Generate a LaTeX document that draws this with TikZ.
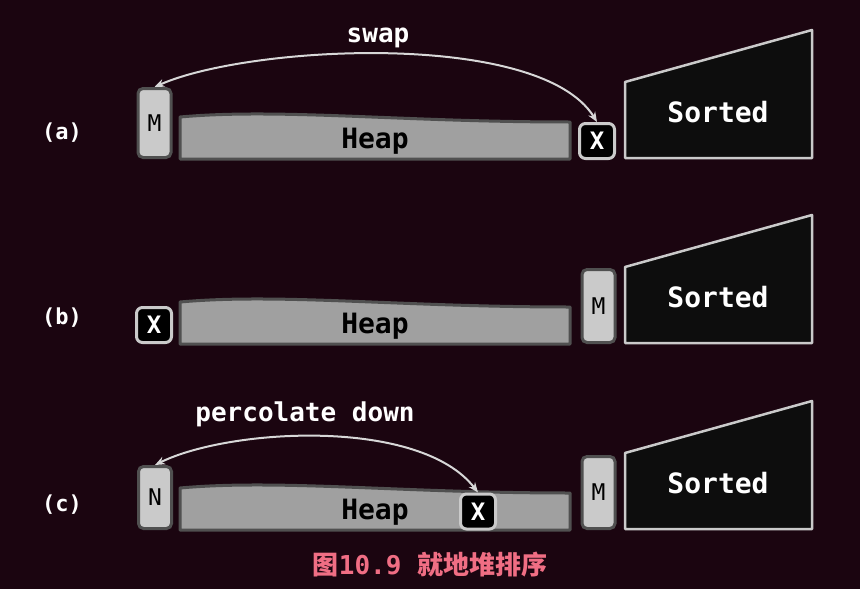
\documentclass[tikz,border=0pt]{standalone}
\usepackage{fontspec}
\setmonofont{DejaVu Sans Mono}
\newfontfamily\cjkfont{Noto Sans CJK SC}
\definecolor{bgmaroon}{RGB}{27, 5, 16}
\definecolor{keygray}{RGB}{202, 202, 202}
\definecolor{edgegray}{RGB}{80, 80, 80}
\definecolor{heapgray}{RGB}{160, 160, 160}
\definecolor{sortedblack}{RGB}{13, 13, 13}
\definecolor{captionpink}{RGB}{240, 110, 132}
\definecolor{arcgray}{RGB}{215, 215, 215}
\usetikzlibrary{
  arrows.meta,
  positioning,
}
\tikzset{
  >={Stealth[length=10pt,width=8pt]},
  keybox/.style={draw=edgegray,line width=3pt,fill=keygray,rounded corners=5pt,inner sep=0pt,
    minimum width=33,font=\ttfamily\fontsize{23}{23}\selectfont},
  xbox/.style={draw=keygray,line width=3pt,fill=black,text=white,rounded corners=6pt,inner sep=0pt,
    minimum width=35,minimum height=35,font=\ttfamily\bfseries\fontsize{24}{24}\selectfont},
  rowlabel/.style={text=white,font=\ttfamily\bfseries\fontsize{22}{22}\selectfont},
  steplabel/.style={text=white,font=\ttfamily\bfseries\fontsize{26}{26}\selectfont},
  heaptext/.style={text=black,font=\ttfamily\bfseries\fontsize{28}{28}\selectfont},
  sortedtext/.style={text=white,font=\ttfamily\bfseries\fontsize{28}{28}\selectfont},
  swaparc/.style={<->,draw=arcgray,line width=2pt},
  heapbar/.pic={
    \draw[draw=edgegray,line width=3pt,fill=heapgray,line join=round]
      (0,0) -- (0,-42) .. controls (100,-51) and (220,-37) .. (390,-37) -- (390,0) -- cycle;
    \node[heaptext] (-label) at (195,-18) {Heap};
  },
  sortedpile/.pic={
    \draw[draw=keygray,line width=2.5pt,fill=sortedblack,line join=round]
      (0,0) -- (0,-76) -- (187,-128) -- (187,0) -- cycle;
    \node[sortedtext] (-label) at (93,-46) {Sorted};
  },
}

\begin{document}
\begin{tikzpicture}[x=1pt,y=-1pt]

    \fill[bgmaroon] (0,0) rectangle (860,589);

    % (a)
    \node[rowlabel] (la) at (62,133) {(a)};
    \pic (ha) at (180,159) {heapbar};
    \pic (sa) at (625,158) {sortedpile};
    \node[keybox,minimum height=69] (ma) at (154.5,123) {M};
    \node[xbox] (xa) at (597,141) {X};
    \node[steplabel] (swap) at (378,38) {swap};
    \draw[swaparc] (ma.north) .. controls +(95,-42) and +(-57,-92) .. (xa.north);

    % (b)
    \node[rowlabel] (lb) at (62,318) {(b)};
    \pic (hb) at (180,344) {heapbar};
    \pic (sb) at (625,343) {sortedpile};
    \node[xbox] (xb) at (154,325) {X};
    \node[keybox,minimum height=73] (mb) at (598.5,306) {M};

    % (c)
    \node[rowlabel] (lc) at (62,505) {(c)};
    \pic (hc) at (180,530) {heapbar};
    \pic (sc) at (625,529) {sortedpile};
    \node[keybox,minimum height=62] (nc) at (155,497.5) {N};
    \node[keybox,minimum height=72] (mc) at (598.5,492.5) {M};
    \node[xbox] (xc) at (478,511.5) {X};
    \node[steplabel] (perc) at (305,414) {percolate down};
    \draw[swaparc] (nc.north) .. controls +(75,-37) and +(-58,-75) .. (xc.north);

    \node[text=captionpink,font=\cjkfont\bfseries\fontsize{26}{26}\selectfont] (caption) at (430,565)
      {图{\ttfamily 10.9 }就地堆排序};

\end{tikzpicture}
\end{document}
